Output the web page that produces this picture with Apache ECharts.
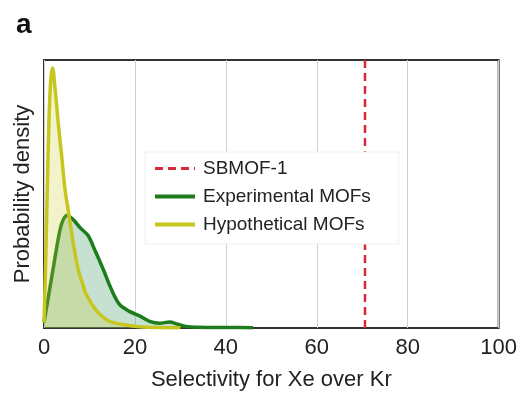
<!DOCTYPE html>
<html>
<head>
<meta charset="utf-8">
<script src="https://cdn.jsdelivr.net/npm/echarts@6/dist/echarts.min.js"></script>
<style>html,body{margin:0;padding:0;background:#fff;}#c{width:520px;height:396px;}</style>
</head>
<body>
<div id="c"></div>
<script>
var xTicks = [0, 20, 40, 60, 80, 100];
var sbmofX = 70.6;
var hypoX = [0, 0.3, 0.7, 1.1, 1.5, 1.9, 2.4, 3.1, 3.9, 4.6, 5.5, 6.4, 7.5, 8.6, 9.3, 11.5, 14.4, 18.1, 21, 25, 30];
var hypoY = [0.02, 0.2, 0.5, 0.78, 0.93, 0.97, 0.9, 0.77, 0.64, 0.52, 0.42, 0.32, 0.22, 0.16, 0.125, 0.066, 0.025, 0.011, 0.005, 0.002, 0.001];
var expX = [0, 0.4, 1.2, 2.0, 3.1, 3.9, 5.0, 6.4, 7.9, 9.7, 11.2, 13.0, 14.8, 16.6, 18.8, 21, 23.2, 25.4, 27.6, 29.4, 31.2, 34, 40, 46];
var expY = [0.02, 0.06, 0.14, 0.22, 0.33, 0.39, 0.42, 0.405, 0.375, 0.345, 0.29, 0.22, 0.145, 0.088, 0.062, 0.045, 0.025, 0.018, 0.022, 0.014, 0.006, 0.003, 0.002, 0.001];

function pairs(xs, ys) { return xs.map(function (x, i) { return [x, ys[i]]; }); }

var font = 'Liberation Sans, Arial, Helvetica, sans-serif';
var chart = echarts.init(document.getElementById('c'));
chart.setOption({
  animation: false,
  textStyle: { fontFamily: font },
  title: { text: 'a', left: 11, top: 6, textStyle: { fontSize: 28, fontWeight: 'bold', color: '#111', fontFamily: font } },
  grid: { left: 44, right: 19, top: 60, bottom: 63, show: true, borderColor: '#333', borderWidth: 2, backgroundColor: 'transparent' },
  legend: {
    z: 20,
    orient: 'vertical', left: 145, top: 152,
    data: [
      { name: 'SBMOF-1', lineStyle: { width: 3 } },
      { name: 'Experimental MOFs', lineStyle: { width: 4 } },
      { name: 'Hypothetical MOFs', lineStyle: { width: 4 } }
    ],
    itemWidth: 40, itemHeight: 10, itemGap: 9,
    itemStyle: { opacity: 0 },
    padding: [7, 28, 10, 8],
    backgroundColor: '#ffffff',
    borderColor: '#f0f0f0', borderWidth: 1,
    textStyle: { fontSize: 19, color: '#222', fontFamily: font, lineHeight: 19, padding: [0, 0, 0, 3] }
  },
  xAxis: {
    type: 'value', min: 0, max: 100, interval: 20,
    name: 'Selectivity for Xe over Kr', nameLocation: 'middle', nameGap: 41,
    nameTextStyle: { fontSize: 22, color: '#222', fontFamily: font },
    axisLine: { show: false }, axisTick: { show: false },
    axisLabel: { fontSize: 22, color: '#222', margin: 9, fontFamily: font, customValues: xTicks },
    splitLine: { show: true, lineStyle: { color: '#d0d0d0', width: 1 } }
  },
  yAxis: {
    type: 'value', min: 0, max: 1,
    name: 'Probability density', nameLocation: 'middle', nameGap: 10,
    nameTextStyle: { fontSize: 22, color: '#222', fontFamily: font },
    axisLine: { show: false }, axisTick: { show: false }, axisLabel: { show: false },
    splitLine: { show: false }
  },
  series: [
    {
      name: 'Experimental MOFs', type: 'line', smooth: 0.3, symbol: 'none',
      data: pairs(expX, expY),
      lineStyle: { color: '#1d7d1d', width: 3.5 },
      itemStyle: { color: '#1d7d1d' },
      areaStyle: { color: 'rgba(60,150,100,0.42)' },
      z: 2
    },
    {
      name: 'Hypothetical MOFs', type: 'line', smooth: 0.3, symbol: 'none',
      data: pairs(hypoX, hypoY),
      lineStyle: { color: '#c6c61e', width: 3.5 },
      itemStyle: { color: '#c6c61e' },
      areaStyle: { color: 'rgba(200,200,40,0.35)' },
      z: 3
    },
    {
      name: 'SBMOF-1', type: 'line', symbol: 'none',
      data: [[sbmofX, 0], [sbmofX, 1]],
      lineStyle: { color: '#d8283a', width: 2.5, type: [8, 5] },
      itemStyle: { color: '#d8283a' },
      z: 4
    }
  ]
});
</script>
</body>
</html>
